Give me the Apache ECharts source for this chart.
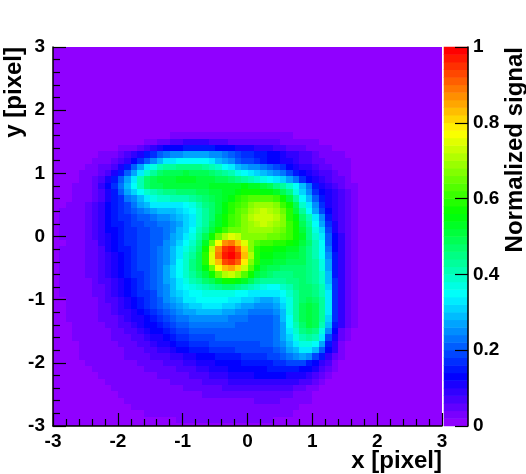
<!DOCTYPE html>
<html>
<head>
<meta charset="utf-8">
<style>html,body{margin:0;padding:0;background:#fff}#main{width:526px;height:474px}</style>
<script src="https://cdn.jsdelivr.net/npm/echarts@6/dist/echarts.min.js"></script>
</head>
<body>
<div id="main"></div>
<script>
// bin centres of the map
let xBins = [-2.95,-2.85,-2.75,-2.65,-2.55,-2.45,-2.35,-2.25,-2.15,-2.05,-1.95,-1.85,-1.75,-1.65,-1.55,-1.45,-1.35,-1.25,-1.15,-1.05,-0.95,-0.85,-0.75,-0.65,-0.55,-0.45,-0.35,-0.25,-0.15,-0.05,0.05,0.15,0.25,0.35,0.45,0.55,0.65,0.75,0.85,0.95,1.05,1.15,1.25,1.35,1.45,1.55,1.65,1.75,1.85,1.95,2.05,2.15,2.25,2.35,2.45,2.55,2.65,2.75,2.85,2.95]
let yBins = [3,2.9,2.8,2.7,2.6,2.5,2.4,2.3,2.2,2.1,2,1.9,1.8,1.7,1.6,1.5,1.4,1.3,1.2,1.1,1,0.9,0.8,0.7,0.6,0.5,0.4,0.3,0.2,0.1,0,-0.1,-0.2,-0.3,-0.4,-0.5,-0.6,-0.7,-0.8,-0.9,-1,-1.1,-1.2,-1.3,-1.4,-1.5,-1.6,-1.7,-1.8,-1.9,-2,-2.1,-2.2,-2.3,-2.4,-2.5,-2.6,-2.7,-2.8,-2.9,-3]
// signal in percent, rows from y=3 down to y=-3, cells past the end of a row read as 0
let signalRows = [
[],[],[],[],[],[],[],[],[],[],[],[],[],
[0,0,0,0,0,0,0,0,0,0,0,0,0,0,0,0,0,0,2,2,2,2,2,2,2,2,2,2,2,2,2,2,2,2,2,2,2,2,2,2,2,2],
[0,0,0,0,0,0,0,0,0,0,0,0,2,2,2,2,2,2,3,3,3,3,3,3,3,3,3,3,3,3,3,3,3,3,3,3,3,2,2,2,2,2,2,2,2],
[0,0,0,0,0,0,0,0,0,0,2,2,2,2,3,4,5,6,7,8,9,9,9,9,8,7,7,6,6,5,5,5,5,5,5,4,4,4,3,3,3,2,2,2,2,2],
[0,0,0,0,0,0,0,2,2,2,3,3,4,6,8,10,12,13,14,14,15,15,15,15,15,14,14,13,12,11,11,10,9,9,8,7,6,6,5,4,4,3,3,2,2,2,2],
[0,0,0,0,0,2,2,3,3,4,5,7,9,12,15,18,21,23,25,26,27,27,27,27,26,25,24,22,20,18,17,16,15,14,13,12,10,9,8,7,5,4,4,3,3,2,2,2],
[0,0,0,0,2,2,3,3,4,5,7,10,13,17,21,26,30,33,34,35,36,36,35,35,33,30,27,25,22,20,19,18,16,14,13,12,11,10,8,7,6,5,4,4,3,3,2,2],
[0,0,0,2,2,3,4,5,6,8,12,16,22,28,34,38,41,43,44,45,45,45,45,44,42,39,36,33,30,28,26,25,23,21,19,17,14,12,10,9,8,6,5,4,3,3,2,2],
[0,0,0,2,3,3,4,6,8,12,16,21,27,34,40,44,47,49,50,50,51,50,50,49,48,46,44,41,37,35,33,31,29,28,26,23,20,16,13,11,10,8,7,5,4,3,2,2],
[0,0,2,2,3,4,5,7,11,15,21,27,34,41,47,50,51,52,52,53,53,53,52,52,51,50,49,48,46,44,42,40,38,36,34,32,28,24,18,13,11,9,8,6,5,3,2,2],
[0,2,2,3,3,4,6,9,13,18,24,30,35,42,47,49,50,51,51,51,51,52,52,52,53,53,53,54,54,55,54,53,51,49,46,43,39,35,30,24,16,12,10,8,6,4,3,2],
[0,2,2,3,3,4,6,8,12,16,21,27,32,36,40,42,44,45,46,47,47,48,49,50,51,52,54,54,56,57,57,57,56,55,53,50,45,38,32,26,18,13,11,9,7,5,3,2],
[0,2,2,3,3,4,6,8,11,15,18,23,26,30,34,37,39,40,41,41,42,43,45,47,49,51,53,56,59,61,63,64,64,63,61,57,52,44,36,30,22,15,11,9,7,5,3,2],
[2,2,3,4,4,5,7,10,13,16,18,20,23,27,30,33,33,33,33,34,35,38,41,45,48,52,55,59,62,64,67,69,70,69,67,62,57,49,40,33,25,17,12,9,7,5,3,2],
[2,3,3,4,4,5,7,10,13,15,17,19,21,23,26,28,29,30,30,31,33,36,40,44,48,52,56,60,63,66,70,72,73,72,70,66,60,52,44,35,28,19,13,10,7,5,3,2],
[2,3,3,4,4,5,7,10,13,15,17,18,20,21,22,24,25,26,27,29,31,34,39,44,48,53,57,61,64,67,71,73,74,73,71,67,60,55,47,41,34,25,15,10,8,5,3,2],
[2,3,3,4,4,5,7,10,13,15,16,17,19,20,21,22,23,24,26,28,31,34,39,44,49,54,58,61,64,67,70,72,73,72,70,67,62,57,50,43,36,28,17,11,8,5,3,2],
[2,3,3,4,4,5,7,10,13,14,16,17,18,19,20,21,22,24,26,29,32,36,41,46,52,57,62,65,66,68,69,70,70,69,68,66,62,58,52,45,38,31,19,12,8,5,3,2],
[2,3,3,3,4,5,7,9,12,14,16,17,18,19,20,21,22,24,27,30,33,38,43,49,57,65,72,76,73,68,67,67,67,66,65,63,61,58,53,46,40,33,21,13,9,5,3,2],
[2,2,3,3,4,5,6,9,11,13,15,17,18,19,20,21,22,25,28,31,35,40,46,53,65,78,87,89,84,76,67,63,62,61,60,59,57,55,52,47,41,35,22,14,9,5,3,2],
[2,3,4,4,4,5,6,8,11,13,15,16,18,19,20,21,23,25,29,33,37,42,48,58,74,87,96,98,92,82,68,60,58,57,56,55,54,53,50,46,41,35,24,14,9,6,3,2],
[2,3,4,4,4,5,6,8,10,12,14,16,18,19,20,21,23,26,30,34,39,44,50,60,76,89,98,100,95,84,71,60,56,55,54,53,52,51,50,46,42,36,26,15,9,6,3,2],
[2,3,4,4,4,5,6,8,10,12,14,16,18,19,20,21,23,26,30,35,40,45,50,59,75,84,93,95,91,80,68,59,54,53,52,51,50,50,49,46,43,37,27,15,9,6,3,2],
[2,3,4,4,4,5,6,7,9,11,13,15,17,19,20,21,24,27,31,35,40,45,50,55,66,77,84,86,82,74,64,56,52,50,49,48,48,48,48,46,43,38,28,16,10,6,3,2],
[2,3,3,4,4,5,5,7,9,11,13,15,17,18,20,21,24,27,31,35,39,43,47,51,57,65,71,73,70,64,57,52,49,47,46,46,46,47,47,46,44,39,29,16,10,6,3,2],
[2,3,3,4,4,4,5,7,8,10,12,14,16,18,19,21,24,27,30,34,38,41,44,47,50,54,57,58,56,53,49,46,44,43,43,44,45,46,47,46,44,40,30,17,10,6,3,2],
[2,3,3,3,4,4,5,6,8,9,11,13,15,17,19,21,23,26,29,33,36,38,40,42,44,46,47,47,46,44,41,39,37,36,36,39,42,45,47,47,45,41,31,17,10,6,3,2],
[2,3,3,3,4,4,5,6,7,9,11,13,15,17,18,20,23,26,29,32,34,35,36,37,38,38,38,37,36,35,33,33,34,34,33,36,40,44,47,48,46,42,33,18,10,6,3,2],
[2,2,3,3,3,4,4,5,7,8,10,12,14,16,18,19,22,25,28,30,33,34,35,36,36,36,35,34,33,32,31,29,28,28,29,33,38,43,47,49,47,43,33,18,10,6,3,2],
[2,2,3,3,3,4,4,5,6,8,9,11,13,15,17,19,21,24,26,28,30,31,32,33,33,33,32,31,30,28,27,26,25,25,27,32,38,44,49,51,49,44,33,18,10,6,3,2],
[2,2,3,3,3,3,4,5,6,7,9,10,12,14,16,18,20,22,24,26,27,28,29,29,29,29,28,27,26,25,24,23,23,23,25,30,37,44,49,52,50,44,33,18,10,6,3,2],
[2,2,3,3,4,4,4,5,5,6,8,9,11,12,14,16,18,20,21,23,24,25,25,25,25,25,25,24,24,23,22,22,21,22,24,29,36,43,49,52,50,44,32,17,10,6,3,1],
[2,2,2,3,3,4,4,4,5,6,7,8,10,11,13,14,16,18,19,21,22,23,23,23,23,23,23,23,22,22,21,21,21,22,24,28,35,42,48,51,49,42,30,15,9,6,3,1],
[2,2,2,3,3,3,4,4,4,5,6,7,8,10,11,13,14,16,17,19,20,21,21,22,22,22,22,22,21,21,21,21,21,22,24,28,33,40,45,48,46,38,26,13,6,4,2],
[2,2,2,3,3,3,3,4,4,5,5,6,7,8,10,11,12,14,15,17,18,19,20,20,20,21,21,21,21,21,21,21,21,22,24,27,32,38,42,43,41,33,20,12,5,3,2],
[2,2,2,2,3,3,3,3,4,4,5,5,6,7,8,9,11,12,14,15,16,17,18,18,19,19,20,20,20,20,20,20,21,21,23,26,30,34,37,38,36,28,16,10,4,2],
[2,2,2,2,3,3,3,3,3,4,4,5,5,6,7,8,9,10,12,13,14,15,16,16,17,17,18,18,19,19,19,19,20,20,22,24,27,30,33,33,29,22,13,9,4,2],
[2,2,2,2,3,3,3,3,3,4,4,5,5,6,6,7,8,8,9,10,11,12,13,14,14,15,15,16,16,17,17,18,18,19,20,22,24,26,27,26,20,15,10,5,3,2],
[2,2,2,2,2,3,3,3,3,3,4,4,4,5,5,6,6,7,7,8,9,10,11,12,12,13,13,14,14,15,15,15,16,16,17,18,19,20,19,16,13,10,7,4,2],
[2,2,2,2,2,2,3,3,3,3,3,4,4,4,5,5,5,6,6,7,7,8,9,10,11,12,12,13,13,13,14,14,14,15,15,15,15,15,14,13,11,8,5,3,2],
[2,2,2,2,2,2,2,3,3,3,3,3,4,4,4,4,5,5,5,6,6,7,7,8,9,10,10,11,12,12,12,13,13,13,13,13,12,12,11,10,8,6,3,2],
[2,2,2,2,2,2,2,2,3,3,3,3,3,4,4,4,4,4,5,5,5,6,6,7,7,8,8,9,9,10,10,10,10,10,10,9,9,9,8,7,5,3,2],
[2,2,2,2,2,2,2,2,2,3,3,3,3,3,4,4,4,4,4,4,5,5,5,5,6,6,7,7,7,8,8,8,8,8,7,7,7,6,5,4,3,2],
[2,2,2,2,2,2,2,2,2,2,3,3,3,3,3,4,4,4,4,4,4,4,4,5,5,5,5,5,6,6,6,6,6,6,5,5,5,4,3,3,2],
[2,2,2,2,2,2,2,2,2,2,2,3,3,3,3,3,3,4,4,4,4,4,4,4,4,4,4,4,4,4,4,5,5,5,5,4,4,4,4,4,2],
[2,2,2,2,2,2,2,2,2,2,2,2,3,3,3,3,3,3,4,4,4,4,4,4,4,4,4,4,4,4,4,4,4,4,4,4,4,4,2],
[2,2,2,2,2,2,2,2,2,2,2,2,2,2,3,3,3,3,3,3,3,3,3,3,3,3,3,3,3,3,3,3,3,3,3,3,3,2],
[2,2,2,2,2,2,2,2,2,2,2,2,2,2,2,2,2,2,2,3,3,3,3,3,3,3,3,3,3,3,3,3,3,3,2,2,2],
[2,2,2,2,2,2,2,2,2,2,2,2,2,2,2,2,2,2,2,2,2,2,2,2,2,2,2,2,2,2,2,2,2,2,2,2]
]
// palette levels shown in the colour bar, percent
let barLevels = [1,3,5,7,9,11,13,15,17,19,21,23,25,27,29,31,33,35,37,39,41,43,45,47,49,51,53,55,57,59,61,63,65,67,69,71,73,75,77,79,81,83,85,87,89,91,93,95,97,99]

// ROOT rainbow: 50 levels, violet -> red
function hue2rgb(h) {
    let c = f => {
        let k = (f + h / 60) % 6
        return Math.round(255 * (1 - Math.max(0, Math.min(k, 4 - k, 1))))
    }
    return 'rgb(' + c(5) + ',' + c(3) + ',' + c(1) + ')'
}
let pieces = barLevels.map((v, i) => ({
    min: v - 1,
    max: v + 1,
    color: hue2rgb(274 * (1 - i / 49))
}))

let mapData = []
yBins.forEach((y, j) => xBins.forEach((x, i) => mapData.push([x, y, signalRows[j][i] || 0])))
let barData = barLevels.map((v, j) => [0, j, v])

// cells snapped to whole pixels, otherwise thin seams show between rows
function renderCell(params, api) {
    let a = api.coord([api.value(0) - 0.05, api.value(1) + 0.05])
    let b = api.coord([api.value(0) + 0.05, api.value(1) - 0.05])
    let x = Math.round(a[0]), y = Math.round(a[1])
    return {
        type: 'rect',
        shape: { x: x, y: y, width: Math.round(b[0]) - x, height: Math.round(b[1]) - y },
        style: { fill: api.visual('color') }
    }
}

let labelFont = { color: '#000', fontFamily: 'Liberation Sans', fontWeight: 'bold', fontSize: 19 }
let nameFont = { color: '#000', fontFamily: 'Liberation Sans', fontWeight: 'bold', fontSize: 24 }
let hidden = { type: 'category', show: false, boundaryGap: true }
let blackLine = { show: true, onZero: false, lineStyle: { color: '#000', width: 1.5 } }
let tick = { show: true, inside: true, length: 13, lineStyle: { color: '#000', width: 1.2 } }
let minor = { show: true, splitNumber: 5, length: 7, lineStyle: { color: '#000', width: 1.2 } }

echarts.init(document.getElementById('main')).setOption({
    backgroundColor: '#fff',
    animation: false,
    grid: [
        { left: 53, top: 47, width: 389, height: 379, outerBoundsMode: 'none' },
        { left: 444, top: 47, width: 24, height: 379, outerBoundsMode: 'none' }
    ],
    visualMap: { type: 'piecewise', show: false, seriesIndex: [0, 1], dimension: 2, pieces: pieces },
    xAxis: [
        {
            type: 'value', gridIndex: 0, position: 'bottom', min: -3, max: 3, interval: 1, z: 10,
            axisLine: blackLine, axisTick: tick, minorTick: minor, splitLine: { show: false },
            axisLabel: Object.assign({ margin: 6, showMinLabel: true, showMaxLabel: true }, labelFont),
            name: 'x [pixel]', nameLocation: 'end', nameGap: 0, nameMoveOverlap: false,
            nameTextStyle: Object.assign({ align: 'right', verticalAlign: 'top', padding: [23, 0, 0, 0] }, nameFont)
        },
        Object.assign({}, hidden, { gridIndex: 1, data: ['bar'] })
    ],
    yAxis: [
        {
            type: 'value', gridIndex: 0, position: 'left', min: -3, max: 3, interval: 1, z: 10,
            axisLine: blackLine, axisTick: tick, minorTick: minor, splitLine: { show: false },
            axisLabel: Object.assign({ margin: 8, showMinLabel: true, showMaxLabel: true }, labelFont),
            name: 'y [pixel]', nameLocation: 'end', nameGap: 0, nameRotate: 90, nameMoveOverlap: false,
            nameTextStyle: Object.assign({ align: 'right', verticalAlign: 'bottom', padding: [0, 0, 27, 0] }, nameFont)
        },
        Object.assign({}, hidden, { gridIndex: 1, data: barLevels }),
        {
            type: 'value', gridIndex: 1, position: 'right', min: 0, max: 1, interval: 0.2, z: 10,
            axisLine: blackLine, axisTick: tick, minorTick: { show: false }, splitLine: { show: false },
            axisLabel: Object.assign({ margin: 5, showMinLabel: true, showMaxLabel: true }, labelFont),
            name: 'Normalized signal', nameLocation: 'end', nameGap: 0, nameRotate: 90, nameMoveOverlap: false,
            nameTextStyle: Object.assign({ align: 'right', verticalAlign: 'top', padding: [35, 0, 0, 0] }, nameFont)
        }
    ],
    series: [
        {
            type: 'custom', xAxisIndex: 0, yAxisIndex: 0, data: mapData, renderItem: renderCell,
            encode: { x: 0, y: 1 }, clip: true, silent: true, progressive: 0
        },
        {
            type: 'heatmap', xAxisIndex: 1, yAxisIndex: 1, data: barData,
            silent: true, progressive: 0, emphasis: { disabled: true }
        }
    ]
})
</script>
</body>
</html>
